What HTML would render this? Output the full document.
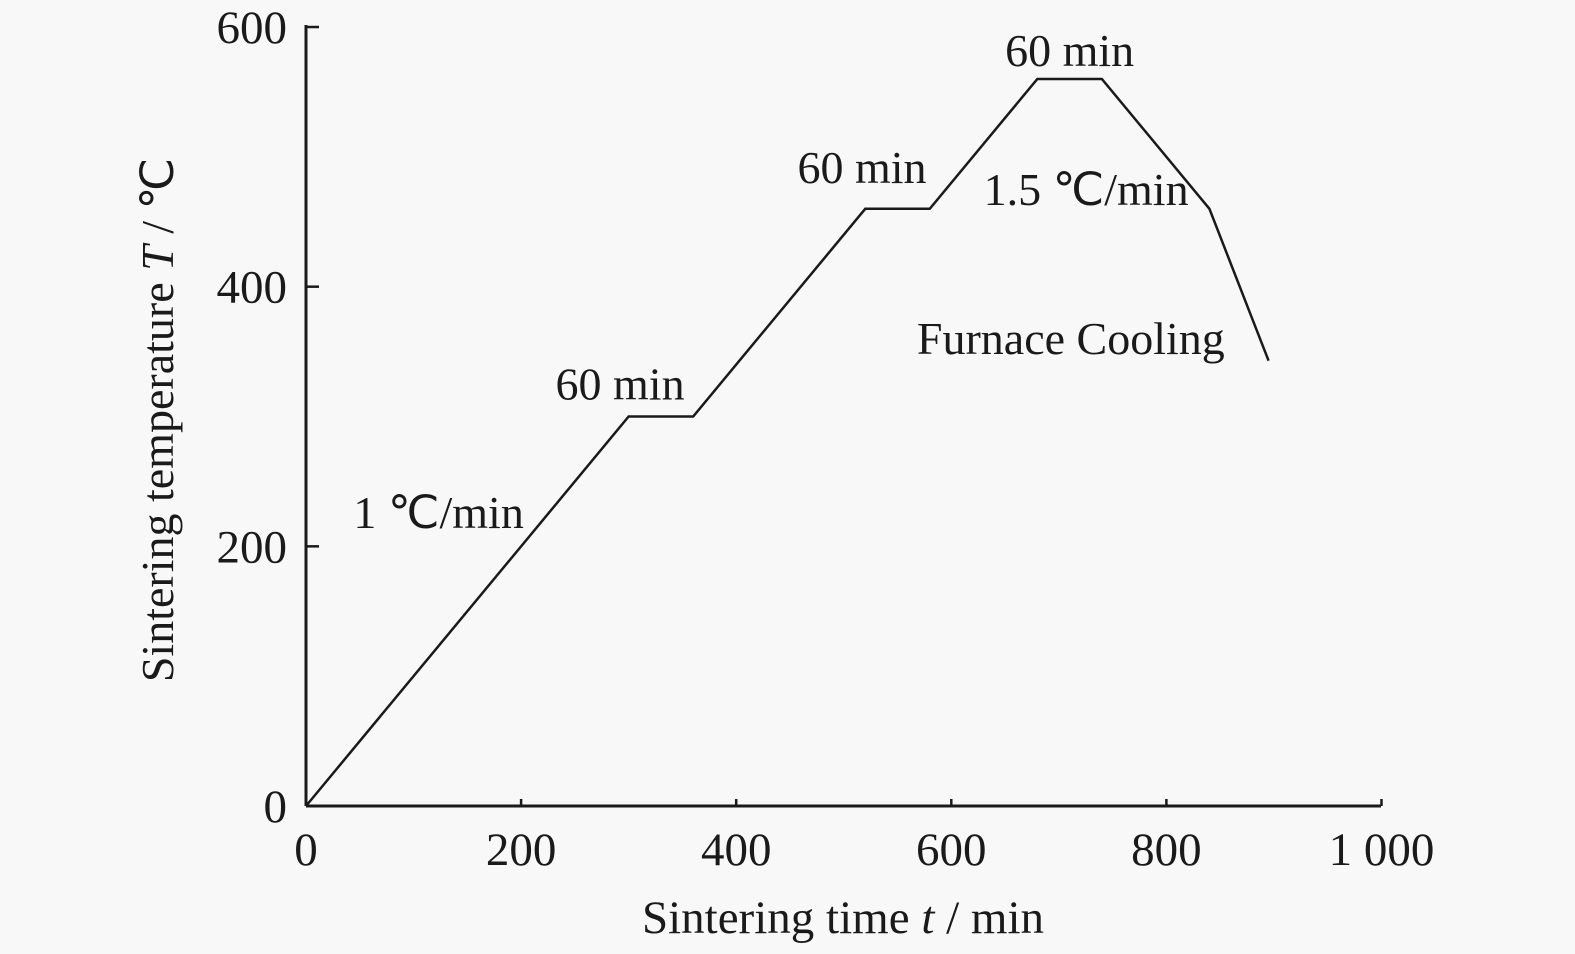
<!DOCTYPE html>
<html><head><meta charset="utf-8"><style>
html,body{margin:0;padding:0;background:#f8f8f8;}
svg{display:block;font-family:"Liberation Serif",serif;}
</style></head><body>
<svg width="1575" height="954" viewBox="0 0 1575 954">
<g id="axes"></g>
<g id="ticks"></g>
<g id="series"></g>
<g id="annot"></g>
<text x="843" y="933" font-size="47" text-anchor="middle" fill="#1a1a1a">Sintering time <tspan font-style="italic">t</tspan> / min</text>
<text transform="translate(173,420) rotate(-90)" font-size="46" text-anchor="middle" fill="#1a1a1a">Sintering temperature <tspan font-style="italic">T</tspan> / ℃</text>
</svg>
<script>
const times=[0,300,360,520,580,680,740,840,895];
const temps=[0,300,300,460,460,560,560,460,343];
const xTicks=[0,200,400,600,800,1000];
const xTickLabels=["0","200","400","600","800","1 000"];
const yTicks=[0,200,400,600];
const yTickLabels=["0","200","400","600"];
const annLabels=["1 ℃/min","60 min","60 min","60 min","1.5 ℃/min","Furnace Cooling"];
const annX=[44,232,457,650,630,568];
const annY=[214,313,480,570,463,348];
const NS="http://www.w3.org/2000/svg";
const X=v=>306+v*1.0755, Y=v=>806-v*1.2983;
function mk(tag,attrs,parent){const e=document.createElementNS(NS,tag);for(const k in attrs)e.setAttribute(k,attrs[k]);document.getElementById(parent).appendChild(e);return e;}
let a=mk('line',{x1:306,y1:806,x2:1381,y2:806,stroke:'#1a1a1a','stroke-width':3},'axes');


a=mk('line',{x1:306,y1:806,x2:306,y2:25,stroke:'#1a1a1a','stroke-width':3},'axes');


xTicks.forEach((v,i)=>{
 const t=mk('line',{x1:X(v),y1:806,x2:X(v),y2:799,stroke:'#1a1a1a','stroke-width':2.5},'ticks');
 
 
 const l=mk('text',{x:X(v),y:865,'font-size':47,'text-anchor':'middle',fill:'#1a1a1a'},'ticks');
 l.textContent=xTickLabels[i];
 
 
});
yTicks.forEach((v,i)=>{
 const t=mk('line',{x1:306,y1:Y(v),x2:319,y2:Y(v),stroke:'#1a1a1a','stroke-width':2.5},'ticks');
 
 
 const l=mk('text',{x:287,y:Y(v)+16,'font-size':47,'text-anchor':'end',fill:'#1a1a1a'},'ticks');
 l.textContent=yTickLabels[i];
 
 
});
const p=mk('polyline',{points:times.map((t,i)=>X(t)+','+Y(temps[i])).join(' '),fill:'none',stroke:'#1a1a1a','stroke-width':2.5},'series');


annLabels.forEach((s,i)=>{
 const l=mk('text',{x:X(annX[i]),y:Y(annY[i]),'font-size':46,fill:'#1a1a1a'},'annot');
 l.textContent=s;
 
 
});
</script>
</body></html>
